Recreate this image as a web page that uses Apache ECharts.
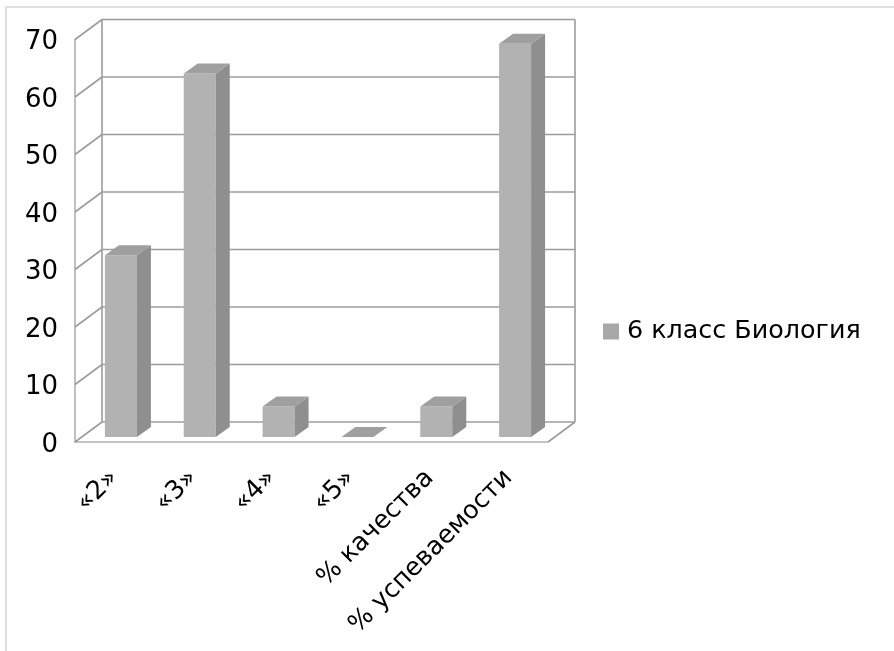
<!DOCTYPE html>
<html>
<head>
<meta charset="utf-8">
<style>
html,body{margin:0;padding:0;background:#fff;}
#frame{position:absolute;left:5px;top:6px;right:0;bottom:0;border-left:2px solid #e0e0e0;border-top:2px solid #e0e0e0;}
#c{position:absolute;left:0;top:0;width:894px;height:651px;}
</style>
<script src="https://cdn.jsdelivr.net/npm/echarts@6/dist/echarts.min.js"></script>
</head>
<body>
<div id="frame"></div>
<div id="c"></div>
<script>
const categories = ['«2»', '«3»', '«4»', '«5»', '% качества', '% успеваемости'];
const values = [31.6, 63.2, 5.3, 0, 5.3, 68.4];
const gridTicks = [0, 10, 20, 30, 40, 50, 60, 70];
const seriesName = '6 класс Биология';

const wallDX = 27, wallDY = -20;      // perspective offset of the back wall
const depthDX = 14, depthDY = -10;    // bar depth
const barLift = -5, barShift = 6.5;   // bar placement on the floor
const FRONT = '#b2b2b2', SIDE = '#8f8f8f', TOP = '#9f9f9f', WALL = '#9c9c9c';
const font = '"DejaVu Sans", sans-serif';

const chart = echarts.init(document.getElementById('c'), null, {renderer: 'canvas'});

function poly(points, color) {
  return {type: 'polygon', shape: {points}, style: {fill: color}};
}
function seg(x1, y1, x2, y2, w) {
  return {type: 'line', shape: {x1, y1, x2, y2}, style: {stroke: WALL, lineWidth: w || 1.6, fill: null}};
}

chart.setOption({
  animation: false,
  backgroundColor: 'transparent',
  grid: {left: 75, top: 39.5, width: 473, height: 402.5, containLabel: false},
  legend: {
    left: 598, top: 314, orient: 'vertical', icon: 'rect',
    itemWidth: 16, itemHeight: 16, itemGap: 0,
    data: [{name: seriesName, itemStyle: {color: '#a8a8a8'}}],
    textStyle: {fontFamily: font, fontSize: 25.4, color: '#000', padding: [0, 0, 0, 3]}
  },
  xAxis: {
    type: 'category', data: categories,
    axisLine: {show: true, lineStyle: {color: '#b0b0b0', width: 1.6}},
    axisTick: {show: false},
    axisLabel: {interval: 0, rotate: 45, margin: 32, fontFamily: font, fontSize: 25.4, color: '#000'},
    splitLine: {show: false}
  },
  yAxis: {
    type: 'value', min: 0, max: 70, interval: 10,
    axisLine: {show: true, lineStyle: {color: '#b0b0b0', width: 1.6}},
    axisTick: {show: false},
    axisLabel: {margin: 17, verticalAlign: 'top', lineHeight: 6, fontFamily: font, fontSize: 26, color: '#000'},
    splitLine: {show: false}
  },
  series: [
    {
      type: 'custom', name: 'walls', silent: true, z: 1,
      encode: {y: 0},
      data: gridTicks.map(t => [t]),
      renderItem(params, api) {
        const cs = params.coordSys;
        const y = api.coord([0, api.value(0)])[1];
        const right = cs.x + cs.width;
        const children = [
          seg(cs.x, y, cs.x + wallDX, y + wallDY),
          seg(cs.x + wallDX, y + wallDY, right + wallDX, y + wallDY)
        ];
        if (params.dataIndex === 0) {
          children.push(
            seg(cs.x + wallDX, cs.y + wallDY, cs.x + wallDX, cs.y + cs.height + wallDY),
            seg(right + wallDX, cs.y + wallDY, right + wallDX, cs.y + cs.height + wallDY),
            seg(right, y, right + wallDX, y + wallDY)
          );
        }
        return {type: 'group', children};
      }
    },
    {
      type: 'custom', name: seriesName, z: 2,
      itemStyle: {color: '#a8a8a8'},
      encode: {x: 0, y: 1},
      data: values.map((v, i) => [i, v]),
      renderItem(params, api) {
        const top = api.coord([api.value(0), api.value(1)]);
        const base = api.coord([api.value(0), 0]);
        const w = api.size([1, 0])[0] * 0.406;
        const x0 = top[0] + barShift - w / 2, x1 = x0 + w;
        const yT = top[1] + barLift, yB = base[1] + barLift;
        const children = [];
        if (api.value(1) > 0) {
          children.push(
            {type: 'rect', shape: {x: x0, y: yT, width: w, height: yB - yT}, style: {fill: FRONT}},
            poly([[x1, yT], [x1 + depthDX, yT + depthDY], [x1 + depthDX, yB + depthDY], [x1, yB]], SIDE)
          );
        }
        children.push(poly([[x0, yT], [x1, yT], [x1 + depthDX, yT + depthDY], [x0 + depthDX, yT + depthDY]], TOP));
        return {type: 'group', children};
      }
    }
  ]
});
</script>
</body>
</html>
